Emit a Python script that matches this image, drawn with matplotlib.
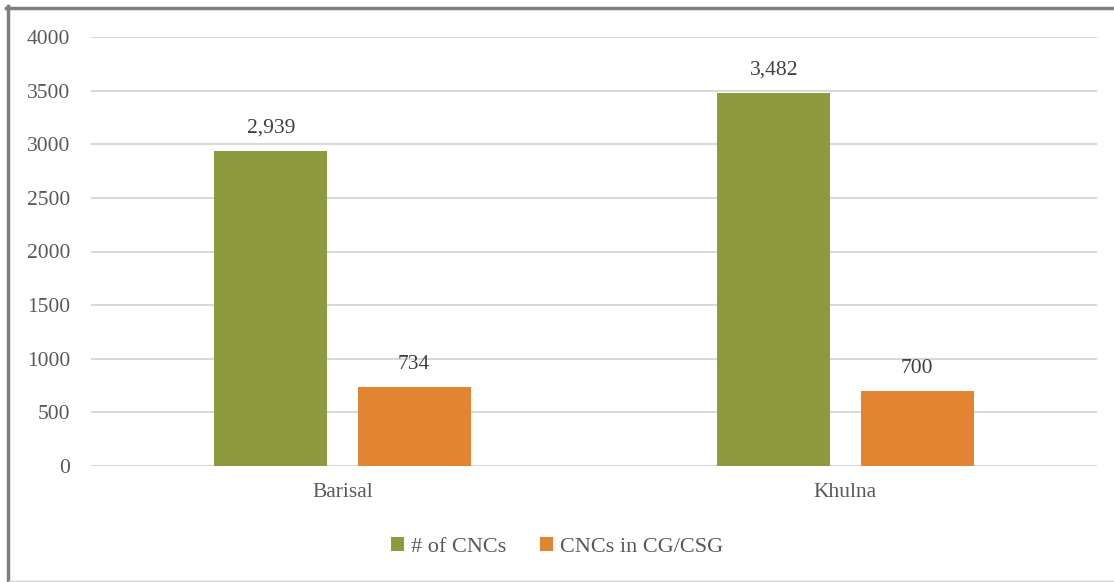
import matplotlib.pyplot as plt
import numpy as np
from matplotlib.lines import Line2D

regions = ['Barisal', 'Khulna']
cnc_total = [2939, 3482]
cnc_cg = [734, 700]
series_names = ['# of CNCs', 'CNCs in CG/CSG']
colors = ['#8E9A3E', '#E38433']

plt.rcParams['font.family'] = ['Liberation Serif', 'DejaVu Serif']
txt = '#595959'

fig = plt.figure(figsize=(11.14, 5.82), dpi=100)
ax = fig.add_axes([91 / 1114, 1 - 466 / 582, 1006 / 1114, 429 / 582])

x = np.arange(len(regions))
w = 0.224
off = 0.1425
b1 = ax.bar(x - off, cnc_total, w, color=colors[0], label=series_names[0], zorder=3)
b2 = ax.bar(x + off, cnc_cg, w, color=colors[1], label=series_names[1], zorder=3)

for bars in (b1, b2):
    for r in bars:
        h = r.get_height()
        ax.text(r.get_x() + r.get_width() / 2, h + 120, f'{h:,.0f}',
                ha='center', va='bottom', fontsize=15.5, color='#404040')

ax.set_xlim(-0.5, 1.5)
ax.set_ylim(0, 4000)
ax.set_yticks(range(0, 4001, 500))
ax.yaxis.grid(True, color='#D9D9D9', linewidth=1.5, zorder=0)
ax.set_xticks(x)
ax.set_xticklabels(regions)
for s in ax.spines.values():
    s.set_visible(False)
ax.tick_params(length=0, labelsize=15.5, colors=txt)
ax.tick_params(axis='y', pad=15)
ax.tick_params(axis='x', pad=12)

fig.legend(handles=[b1, b2], labels=series_names, loc='center', bbox_to_anchor=(0.5, 1 - 547 / 582),
           ncol=2, frameon=False, fontsize=16, labelcolor=txt, handlelength=0.6, handleheight=0.6,
           handletextpad=0.3, columnspacing=1.5)

# outer frame: heavy left/top, light bottom
fig.add_artist(Line2D([7.5 / 1114, 7.5 / 1114], [0, 1 - 6 / 582], color='#7F7F7F', linewidth=2.5,
                      transform=fig.transFigure))
fig.add_artist(Line2D([6 / 1114, 1], [1 - 7.5 / 582, 1 - 7.5 / 582], color='#7F7F7F', linewidth=2.5,
                      transform=fig.transFigure))
fig.add_artist(Line2D([9 / 1114, 1], [1 / 582, 1 / 582], color='#D0D0D0', linewidth=1,
                      transform=fig.transFigure))

fig.savefig('out.png', dpi=100)
